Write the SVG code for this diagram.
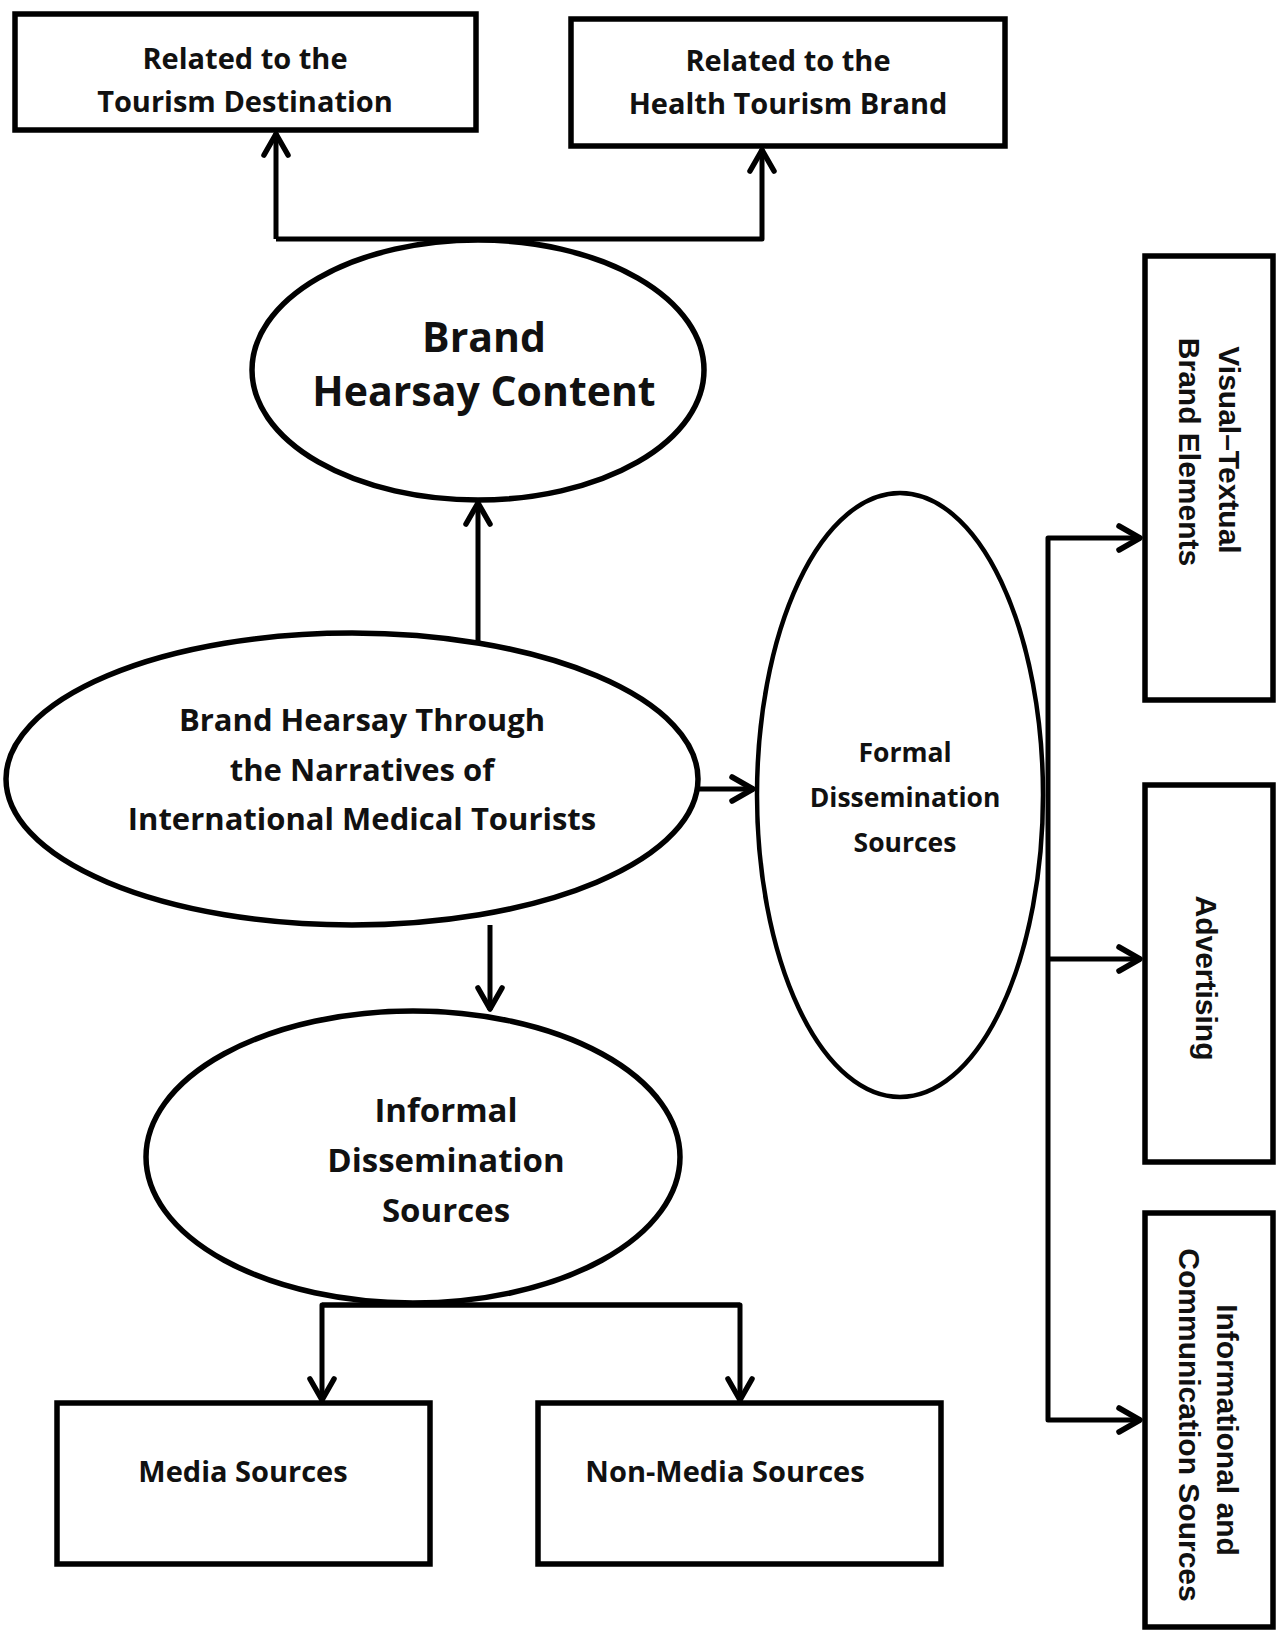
<svg xmlns="http://www.w3.org/2000/svg" width="1278" height="1634" viewBox="0 0 1278 1634">
<style>
.box{fill:#fff;stroke:#000;stroke-width:5.5}
.ell{fill:#fff;stroke:#000;stroke-width:5.5}
.t{font-family:"Open Sans","Liberation Sans",sans-serif;font-weight:bold;fill:#111;text-anchor:middle;dominant-baseline:central}
.r{font-family:"Liberation Sans",Arial,sans-serif;font-weight:bold;fill:#111;text-anchor:middle;dominant-baseline:central;font-size:30px}
.c{fill:none;stroke:#000;stroke-width:5;stroke-linejoin:round}
</style>
<defs>
<marker id="ah" markerUnits="userSpaceOnUse" markerWidth="60" markerHeight="60" refX="0" refY="0" viewBox="-30 -30 60 60" orient="auto" overflow="visible">
<path d="M-22,-12 L-1,0 L-22,12" fill="none" stroke="#000" stroke-width="5.5" stroke-linecap="round" stroke-linejoin="round"/>
</marker>
</defs>
<rect width="1278" height="1634" fill="#fff"/>
<g id="connectors">
<path class="c" d="M478,643 L478,502" marker-end="url(#ah)"/>
<path class="c" d="M276,239 L276,133" marker-end="url(#ah)"/>
<path class="c" d="M276,239 L762,239 L762,149" marker-end="url(#ah)"/>
<path class="c" d="M699,789 L754,789" marker-end="url(#ah)"/>
<path class="c" d="M490,925 L490,1010" marker-end="url(#ah)"/>
<path class="c" d="M740,1305 L322,1305 L322,1401" marker-end="url(#ah)"/>
<path class="c" d="M322,1305 L740,1305 L740,1401" marker-end="url(#ah)"/>
<path class="c" d="M1048,959 L1048,538 L1141,538" marker-end="url(#ah)"/>
<path class="c" d="M1048,959 L1141,959" marker-end="url(#ah)"/>
<path class="c" d="M1048,959 L1048,1420 L1141,1420" marker-end="url(#ah)"/>
</g>
<g id="n-destination">
<rect class="box" x="15" y="14" width="461" height="116"/>
<text class="t" style="font-size:29px" x="245" y="57">Related to the</text>
<text class="t" style="font-size:29px" x="245" y="100">Tourism Destination</text>
</g>
<g id="n-brand">
<rect class="box" x="571" y="19" width="434" height="127"/>
<text class="t" style="font-size:29px" x="788" y="59">Related to the</text>
<text class="t" style="font-size:29px" x="788" y="102">Health Tourism Brand</text>
</g>
<g id="n-content">
<ellipse class="ell" cx="478" cy="370" rx="226" ry="130"/>
<text class="t" style="font-size:41px" x="484" y="336">Brand</text>
<text class="t" style="font-size:41px" x="484" y="390">Hearsay Content</text>
</g>
<g id="n-main">
<ellipse class="ell" cx="352" cy="779" rx="346" ry="146"/>
<text class="t" style="font-size:31px" x="362" y="719">Brand Hearsay Through</text>
<text class="t" style="font-size:31px" x="362" y="769">the Narratives of</text>
<text class="t" style="font-size:31px" x="362" y="818">International Medical Tourists</text>
</g>
<g id="n-formal">
<ellipse class="ell" cx="900" cy="795" rx="143" ry="302" style="stroke-width:4.5"/>
<text class="t" style="font-size:26.5px" x="905" y="752">Formal</text>
<text class="t" style="font-size:26.5px" x="905" y="797">Dissemination</text>
<text class="t" style="font-size:26.5px" x="905" y="842">Sources</text>
</g>
<g id="n-informal">
<ellipse class="ell" cx="413" cy="1157" rx="267" ry="146"/>
<text class="t" style="font-size:33px" x="446" y="1109">Informal</text>
<text class="t" style="font-size:33px" x="446" y="1159">Dissemination</text>
<text class="t" style="font-size:33px" x="446" y="1209">Sources</text>
</g>
<g id="n-media">
<rect class="box" x="57" y="1403" width="373" height="161"/>
<text class="t" style="font-size:29px" x="243" y="1470">Media Sources</text>
</g>
<g id="n-nonmedia">
<rect class="box" x="538" y="1403" width="403" height="161"/>
<text class="t" style="font-size:29px" x="725" y="1470">Non-Media Sources</text>
</g>
<g id="n-visual">
<rect class="box" x="1145" y="256" width="128" height="444"/>
<text class="r" transform="translate(1229,450) rotate(90)">Visual–Textual</text>
<text class="r" transform="translate(1189,452) rotate(90)">Brand Elements</text>
</g>
<g id="n-advertising">
<rect class="box" x="1145" y="785" width="128" height="377"/>
<text class="r" transform="translate(1206,978) rotate(90)">Advertising</text>
</g>
<g id="n-info">
<rect class="box" x="1145" y="1213" width="128" height="414"/>
<text class="r" transform="translate(1227,1430) rotate(90)">Informational and</text>
<text class="r" transform="translate(1189,1425) rotate(90)">Communication Sources</text>
</g>
</svg>
